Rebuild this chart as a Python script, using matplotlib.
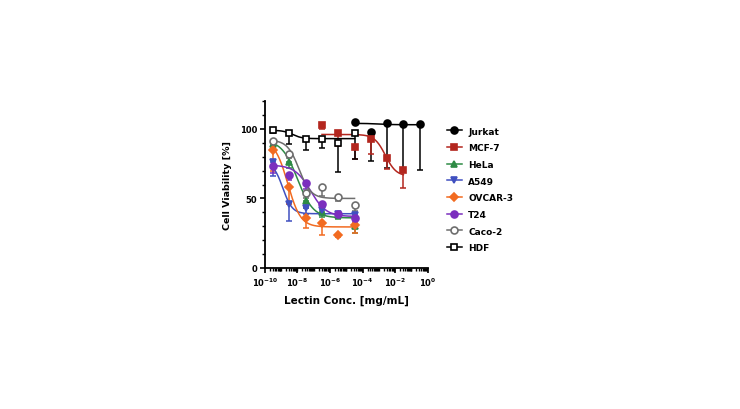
import numpy as np
import matplotlib
matplotlib.use("Agg")
import matplotlib.pyplot as plt
from matplotlib.ticker import LogLocator, FixedLocator, MultipleLocator, NullFormatter

# concentraciones (mg/mL)
conc_low = [3.2e-10, 3.2e-9, 3.2e-8, 3.2e-7, 3.2e-6, 3.2e-5]
conc_jurkat = [3.2e-5, 3.2e-4, 3.2e-3, 3.2e-2, 3.2e-1]
conc_mcf7 = [3.2e-7, 3.2e-6, 3.2e-5, 3.2e-4, 3.2e-3, 3.2e-2]

lineas = ["Jurkat", "MCF-7", "HeLa", "A549", "OVCAR-3", "T24", "Caco-2", "HDF"]

# viabilidad (%) y error (solo hacia abajo)
jurkat = [105, 98, 104, 103.5, 103.5]
jurkat_err = [0, 21, 32, 33, 33]
mcf7 = [103, 97, 87, 93, 79, 70.5]
mcf7_err = [3, 9, 9, 11, 8, 13]
hela = [89, 76, 48, 40, 38, 30]
hela_err = [3, 4, 5, 3, 3, 5]
a549 = [76, 46, 43, 42, 39, 38]
a549_err = [10, 12, 4, 4, 3, 3]
ovcar3 = [85, 58, 36, 32, 24, 31]
ovcar3_err = [15, 12, 7, 8, 2, 6]
t24 = [73, 67, 61, 46, 39, 36]
t24_err = [5, 4, 4, 3, 3, 3]
caco2 = [91, 82, 54, 58, 51, 45]
caco2_err = [3, 3, 4, 6, 3, 4]
hdf = [99, 97, 92.5, 93, 90, 97]
hdf_err = [2, 8, 8, 7, 21, 19]

# parametros del ajuste sigmoidal (top, bottom, logEC50, pendiente)
fit_top = [104, 96, 92, 76, 92, 74, 92, 99]
fit_bottom = [103, 66, 36, 39, 29.5, 37, 50, 93]
fit_logec50 = [-3.0, -2.6, -8.0, -8.9, -8.6, -7.2, -7.9, -8.3]
fit_hill = [1.0, 1.3, 0.9, 1.5, 1.1, 0.9, 1.2, 1.5]

colores = ["black", "#b3261e", "#2e8b45", "#4050c0", "#f26b21", "#7b2fbe", "#6e6e6e", "black"]
marcadores = ["o", "s", "^", "v", "D", "o", "o", "s"]
relleno = ["black", "#b3261e", "#2e8b45", "#4050c0", "#f26b21", "#7b2fbe", "white", "white"]
tamanos = [5, 4.8, 5, 5, 3.6, 5, 5, 5]

xs = [conc_jurkat, conc_mcf7, conc_low, conc_low, conc_low, conc_low, conc_low, conc_low]
ys = [jurkat, mcf7, hela, a549, ovcar3, t24, caco2, hdf]
errs = [jurkat_err, mcf7_err, hela_err, a549_err, ovcar3_err, t24_err, caco2_err, hdf_err]

plt.rcParams['font.family'] = ['DejaVu Sans']
plt.rcParams['font.weight'] = 'bold'
plt.rcParams['mathtext.default'] = 'bf'

fig = plt.figure(figsize=(7.4, 4.1), dpi=100)
ax = fig.add_axes([0.358, 0.344, 0.220, 0.407])

for i in range(len(lineas)):
    x = np.array(xs[i])
    y = np.array(ys[i])
    e = np.array(errs[i])
    ax.errorbar(x, y, yerr=[e, np.zeros_like(e)], fmt='none', ecolor=colores[i],
                elinewidth=1.1, capsize=2.5, capthick=1.1, zorder=2)
    # curva ajustada
    lx = np.linspace(np.log10(x[0]), np.log10(x[-1]), 200)
    cy = fit_bottom[i] + (fit_top[i] - fit_bottom[i]) / (1 + 10 ** ((lx - fit_logec50[i]) * fit_hill[i]))
    ax.plot(10 ** lx, cy, color=colores[i], lw=1.1, zorder=3)
    ax.plot(x, y, linestyle='none', marker=marcadores[i], color=colores[i],
            markerfacecolor=relleno[i], markeredgewidth=1.2, markersize=tamanos[i], zorder=4)
    # solo para la leyenda
    ax.plot([], [], color=colores[i], lw=1.1, marker=marcadores[i],
            markerfacecolor=relleno[i], markeredgewidth=1.2, markersize=tamanos[i],
            label=lineas[i])

ax.set_xscale('log')
ax.set_xlim(1e-10, 1)
ax.set_ylim(0, 120)

ax.xaxis.set_major_locator(FixedLocator([1e-10, 1e-8, 1e-6, 1e-4, 1e-2, 1]))
ax.xaxis.set_minor_locator(LogLocator(base=10, subs=np.arange(1, 10), numticks=100))
ax.xaxis.set_minor_formatter(NullFormatter())
ax.yaxis.set_major_locator(FixedLocator([0, 50, 100]))
ax.yaxis.set_minor_locator(MultipleLocator(10))

ax.spines['top'].set_visible(False)
ax.spines['right'].set_visible(False)
ax.spines['left'].set_linewidth(1.3)
ax.spines['bottom'].set_linewidth(1.3)
ax.tick_params(which='major', direction='out', length=3.5, width=1.2, labelsize=6, pad=2)
ax.tick_params(which='minor', direction='out', length=2, width=1.0)

ax.set_ylabel('Cell Viability [%]', fontsize=6.8, fontweight='bold', labelpad=6)
ax.set_xlabel('Lectin Conc. [mg/mL]', fontsize=7.5, fontweight='bold', labelpad=5)

leg = fig.legend(loc='upper left', bbox_to_anchor=(443 / 740, 1 - 124 / 410), frameon=False,
                 fontsize=6.5, handlelength=1.7, handletextpad=0.7, labelspacing=0.85,
                 borderaxespad=0)

fig.savefig('out.png', dpi=100)
